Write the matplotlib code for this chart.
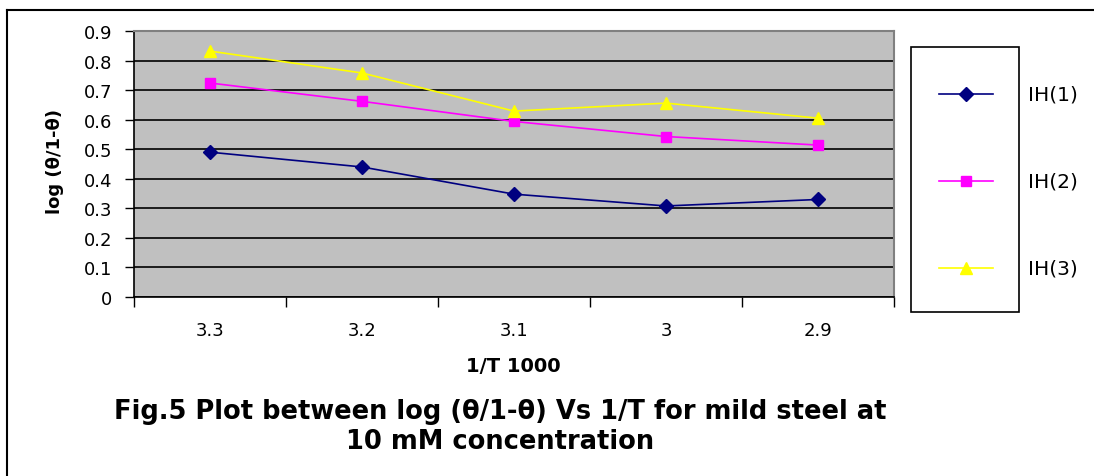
import matplotlib
matplotlib.use("Agg")
import matplotlib.pyplot as plt
from matplotlib.lines import Line2D
from matplotlib.patches import Rectangle

plt.rcParams['font.family'] = ['DejaVu Sans']

categories = ["3.3", "3.2", "3.1", "3", "2.9"]
ih1 = [0.49, 0.44, 0.348, 0.308, 0.33]
ih2 = [0.724, 0.662, 0.594, 0.543, 0.514]
ih3 = [0.832, 0.758, 0.629, 0.656, 0.605]
series_names = ["IH(1)", "IH(2)", "IH(3)"]
y_ticks = [0, 0.1, 0.2, 0.3, 0.4, 0.5, 0.6, 0.7, 0.8, 0.9]

W, H = 1094, 477
fig = plt.figure(figsize=(W / 100, H / 100), dpi=100)

def fx(px):
    return px / W

def fy(py):
    return 1 - py / H

# outer border
fig.add_artist(Line2D([fx(7), fx(7)], [fy(11), 0], color='black', lw=1.5, transform=fig.transFigure))
fig.add_artist(Line2D([fx(7), 1], [fy(11), fy(11)], color='black', lw=1.5, transform=fig.transFigure))

# plot area
left, right, top, bottom = 134, 894, 32, 298
ax = fig.add_axes([fx(left), fy(bottom), fx(right - left), (bottom - top) / H])
ax.set_facecolor('#C0C0C0')

x = list(range(len(categories)))
ax.plot(x, ih1, color='#000080', marker='D', markersize=7, lw=1.2, label=series_names[0])
ax.plot(x, ih2, color='#FF00FF', marker='s', markersize=7, lw=1.2, label=series_names[1])
ax.plot(x, ih3, color='#FFFF00', marker='^', markersize=9, lw=1.2, label=series_names[2])

ax.set_xlim(-0.5, len(categories) - 0.5)
ax.set_ylim(0, 0.9)
ax.set_yticks(y_ticks)
ax.set_yticklabels([f"{v:g}" for v in y_ticks], fontsize=13)
ax.yaxis.grid(True, color='black', lw=1.2)
ax.set_axisbelow(True)

ax.set_xticks([i - 0.5 for i in range(len(categories) + 1)], minor=False)
ax.set_xticklabels([])
ax.set_xticks(x, minor=True)
ax.set_xticklabels(categories, minor=True, fontsize=13)
ax.tick_params(axis='x', which='major', direction='out', length=7, width=1)
ax.tick_params(axis='x', which='minor', length=0, pad=17)
ax.tick_params(axis='y', direction='out', length=6.5, width=1, pad=9)

for s in ['left', 'bottom']:
    ax.spines[s].set_color('black')
    ax.spines[s].set_linewidth(1.2)
for s in ['top', 'right']:
    ax.spines[s].set_color('#808080')
    ax.spines[s].set_linewidth(1.5)

fig.text(fx(55), fy(161), "log (θ/1-θ)", fontsize=13, fontweight='bold', rotation=90,
         ha='center', va='center')
fig.text(fx(513), fy(366), "1/T 1000", fontsize=14, fontweight='bold', ha='center', va='center')
fig.text(fx(500), fy(427), "Fig.5 Plot between log (θ/1-θ) Vs 1/T for mild steel at\n10 mM concentration",
         fontsize=18.5, fontweight='bold', ha='center', va='center', linespacing=1.2)

# legend box
fig.add_artist(Rectangle((fx(911), fy(313)), fx(1019 - 911), (313 - 48) / H, fill=False,
                         edgecolor='black', lw=1.2, transform=fig.transFigure))
entry_y = [95, 182, 269]
styles = [('#000080', 'D', 7), ('#FF00FF', 's', 7), ('#FFFF00', '^', 9)]
for name, ey, (c, m, ms) in zip(series_names, entry_y, styles):
    fig.add_artist(Line2D([fx(939), fx(993)], [fy(ey), fy(ey)], color=c, lw=1.2, transform=fig.transFigure))
    fig.add_artist(Line2D([fx(966)], [fy(ey)], color=c, marker=m, markersize=ms, lw=0, transform=fig.transFigure))
    fig.text(fx(1028), fy(ey), name, fontsize=14.5, ha='left', va='center')

fig.savefig("out.png", dpi=100)
